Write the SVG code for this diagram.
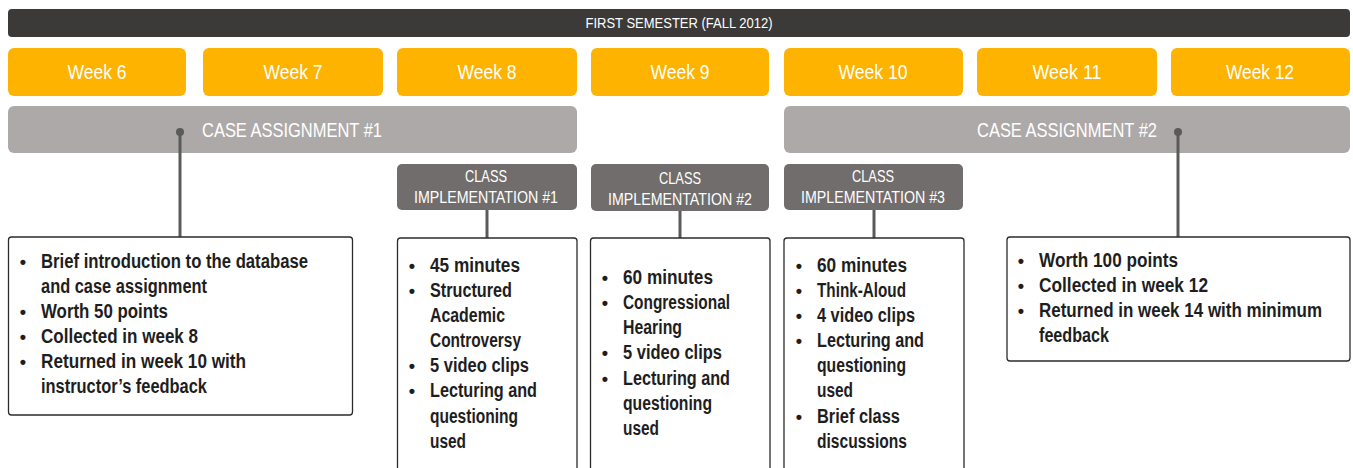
<svg xmlns="http://www.w3.org/2000/svg" width="1353" height="468" viewBox="0 0 1353 468">
<style>
.hdr{font-family:"Liberation Sans",Arial,sans-serif;fill:#ffffff;text-anchor:middle}
.wk{fill:#fdb300}
.case{fill:#ada9a8}
.impl{fill:#716d6c}
.box{fill:#ffffff;stroke:#2b2b2b;stroke-width:1.3}
.body{font-family:"Liberation Sans",Arial,sans-serif;font-weight:bold;font-size:20px;fill:#1e1e1e}
.bul{font-family:"Liberation Sans",Arial,sans-serif;font-weight:bold;font-size:18px;fill:#1e1e1e;text-anchor:middle}
.conn{stroke:#5a5a5a;stroke-width:3;fill:none}
.dot{fill:#5a5a5a}
</style>
<rect width="1353" height="468" fill="#ffffff"/>
<g id="semester">
<rect x="8" y="9" width="1342" height="28" rx="4" fill="#3b3a38"/>
<text class="hdr" x="679" y="28" font-size="15" textLength="187" lengthAdjust="spacingAndGlyphs">FIRST SEMESTER (FALL 2012)</text>
</g>
<g id="week6"><rect class="wk" x="8" y="48" width="178" height="48" rx="6"/><text class="hdr" x="97" y="79" font-size="20" textLength="59" lengthAdjust="spacingAndGlyphs">Week 6</text></g>
<g id="week7"><rect class="wk" x="203" y="48" width="180" height="48" rx="6"/><text class="hdr" x="293" y="79" font-size="20" textLength="59" lengthAdjust="spacingAndGlyphs">Week 7</text></g>
<g id="week8"><rect class="wk" x="397" y="48" width="180" height="48" rx="6"/><text class="hdr" x="487" y="79" font-size="20" textLength="59" lengthAdjust="spacingAndGlyphs">Week 8</text></g>
<g id="week9"><rect class="wk" x="591" y="48" width="178" height="48" rx="6"/><text class="hdr" x="680" y="79" font-size="20" textLength="59" lengthAdjust="spacingAndGlyphs">Week 9</text></g>
<g id="week10"><rect class="wk" x="784" y="48" width="179" height="48" rx="6"/><text class="hdr" x="873" y="79" font-size="20" textLength="69" lengthAdjust="spacingAndGlyphs">Week 10</text></g>
<g id="week11"><rect class="wk" x="977" y="48" width="180" height="48" rx="6"/><text class="hdr" x="1067" y="79" font-size="20" textLength="69" lengthAdjust="spacingAndGlyphs">Week 11</text></g>
<g id="week12"><rect class="wk" x="1171" y="48" width="179" height="48" rx="6"/><text class="hdr" x="1260" y="79" font-size="20" textLength="68" lengthAdjust="spacingAndGlyphs">Week 12</text></g>
<g id="case1"><rect class="case" x="8" y="106" width="569" height="47" rx="6"/><text class="hdr" x="292" y="137" font-size="21" textLength="180" lengthAdjust="spacingAndGlyphs">CASE ASSIGNMENT #1</text></g>
<g id="case2"><rect class="case" x="784" y="106" width="566" height="47" rx="6"/><text class="hdr" x="1067" y="137" font-size="21" textLength="180" lengthAdjust="spacingAndGlyphs">CASE ASSIGNMENT #2</text></g>
<g id="impl1"><rect class="impl" x="397" y="164" width="180" height="46" rx="5"/><text class="hdr" x="486" y="182" font-size="17" textLength="42" lengthAdjust="spacingAndGlyphs">CLASS</text><text class="hdr" x="486" y="203" font-size="17" textLength="144" lengthAdjust="spacingAndGlyphs">IMPLEMENTATION #1</text></g>
<g id="impl2"><rect class="impl" x="591" y="164" width="178" height="47" rx="5"/><text class="hdr" x="680" y="184" font-size="17" textLength="42" lengthAdjust="spacingAndGlyphs">CLASS</text><text class="hdr" x="680" y="205" font-size="17" textLength="144" lengthAdjust="spacingAndGlyphs">IMPLEMENTATION #2</text></g>
<g id="impl3"><rect class="impl" x="784" y="164" width="179" height="46" rx="5"/><text class="hdr" x="873" y="182" font-size="17" textLength="42" lengthAdjust="spacingAndGlyphs">CLASS</text><text class="hdr" x="873" y="203" font-size="17" textLength="144" lengthAdjust="spacingAndGlyphs">IMPLEMENTATION #3</text></g>
<g id="connectors">
<line class="conn" x1="180" y1="132" x2="180" y2="237"/><circle class="dot" cx="180" cy="132" r="4"/>
<line class="conn" x1="1178" y1="132" x2="1178" y2="237"/><circle class="dot" cx="1178" cy="132" r="4"/>
<line class="conn" x1="487" y1="210" x2="487" y2="246"/><circle class="dot" cx="487" cy="246" r="4"/>
<line class="conn" x1="680" y1="211" x2="680" y2="246"/><circle class="dot" cx="680" cy="246" r="4"/>
<line class="conn" x1="874" y1="210" x2="874" y2="246"/><circle class="dot" cx="874" cy="246" r="4"/>
</g>
<g id="detail1">
<rect class="box" x="8.5" y="237" width="344" height="178" rx="3"/>
<text class="bul" x="23" y="268">•</text><text class="body" x="41" y="268" textLength="267" lengthAdjust="spacingAndGlyphs">Brief introduction to the database</text>
<text class="body" x="41" y="293" textLength="166" lengthAdjust="spacingAndGlyphs">and case assignment</text>
<text class="bul" x="23" y="318">•</text><text class="body" x="41" y="318" textLength="127" lengthAdjust="spacingAndGlyphs">Worth 50 points</text>
<text class="bul" x="23" y="343">•</text><text class="body" x="41" y="343" textLength="157" lengthAdjust="spacingAndGlyphs">Collected in week 8</text>
<text class="bul" x="23" y="368">•</text><text class="body" x="41" y="368" textLength="205" lengthAdjust="spacingAndGlyphs">Returned in week 10 with</text>
<text class="body" x="41" y="393" textLength="166" lengthAdjust="spacingAndGlyphs">instructor’s feedback</text>
</g>
<g id="detail2">
<rect class="box" x="397.5" y="238" width="179.5" height="240" rx="3"/>
<text class="bul" x="412" y="272">•</text><text class="body" x="430" y="272" textLength="90" lengthAdjust="spacingAndGlyphs">45 minutes</text>
<text class="bul" x="412" y="297">•</text><text class="body" x="430" y="297" textLength="82" lengthAdjust="spacingAndGlyphs">Structured</text>
<text class="body" x="430" y="322" textLength="75" lengthAdjust="spacingAndGlyphs">Academic</text>
<text class="body" x="430" y="347" textLength="91" lengthAdjust="spacingAndGlyphs">Controversy</text>
<text class="bul" x="412" y="372">•</text><text class="body" x="430" y="372" textLength="99" lengthAdjust="spacingAndGlyphs">5 video clips</text>
<text class="bul" x="412" y="397">•</text><text class="body" x="430" y="397" textLength="107" lengthAdjust="spacingAndGlyphs">Lecturing and</text>
<text class="body" x="430" y="423" textLength="88" lengthAdjust="spacingAndGlyphs">questioning</text>
<text class="body" x="430" y="448" textLength="36" lengthAdjust="spacingAndGlyphs">used</text>
</g>
<g id="detail3">
<rect class="box" x="590.5" y="238" width="179.5" height="240" rx="3"/>
<text class="bul" x="605" y="284">•</text><text class="body" x="623" y="284" textLength="90" lengthAdjust="spacingAndGlyphs">60 minutes</text>
<text class="bul" x="605" y="309">•</text><text class="body" x="623" y="309" textLength="107" lengthAdjust="spacingAndGlyphs">Congressional</text>
<text class="body" x="623" y="334" textLength="59" lengthAdjust="spacingAndGlyphs">Hearing</text>
<text class="bul" x="605" y="359">•</text><text class="body" x="623" y="359" textLength="99" lengthAdjust="spacingAndGlyphs">5 video clips</text>
<text class="bul" x="605" y="385">•</text><text class="body" x="623" y="385" textLength="107" lengthAdjust="spacingAndGlyphs">Lecturing and</text>
<text class="body" x="623" y="410" textLength="89" lengthAdjust="spacingAndGlyphs">questioning</text>
<text class="body" x="623" y="435" textLength="36" lengthAdjust="spacingAndGlyphs">used</text>
</g>
<g id="detail4">
<rect class="box" x="784" y="238" width="180" height="240" rx="3"/>
<text class="bul" x="799" y="272">•</text><text class="body" x="817" y="272" textLength="90" lengthAdjust="spacingAndGlyphs">60 minutes</text>
<text class="bul" x="799" y="297">•</text><text class="body" x="817" y="297" textLength="89" lengthAdjust="spacingAndGlyphs">Think-Aloud</text>
<text class="bul" x="799" y="322">•</text><text class="body" x="817" y="322" textLength="98" lengthAdjust="spacingAndGlyphs">4 video clips</text>
<text class="bul" x="799" y="347">•</text><text class="body" x="817" y="347" textLength="107" lengthAdjust="spacingAndGlyphs">Lecturing and</text>
<text class="body" x="817" y="372" textLength="89" lengthAdjust="spacingAndGlyphs">questioning</text>
<text class="body" x="817" y="397" textLength="36" lengthAdjust="spacingAndGlyphs">used</text>
<text class="bul" x="799" y="423">•</text><text class="body" x="817" y="423" textLength="83" lengthAdjust="spacingAndGlyphs">Brief class</text>
<text class="body" x="817" y="448" textLength="90" lengthAdjust="spacingAndGlyphs">discussions</text>
</g>
<g id="detail5">
<rect class="box" x="1007" y="237" width="343" height="124" rx="3"/>
<text class="bul" x="1021" y="267">•</text><text class="body" x="1039" y="267" textLength="139" lengthAdjust="spacingAndGlyphs">Worth 100 points</text>
<text class="bul" x="1021" y="292">•</text><text class="body" x="1039" y="292" textLength="169" lengthAdjust="spacingAndGlyphs">Collected in week 12</text>
<text class="bul" x="1021" y="317">•</text><text class="body" x="1039" y="317" textLength="283" lengthAdjust="spacingAndGlyphs">Returned in week 14 with minimum</text>
<text class="body" x="1039" y="342" textLength="70" lengthAdjust="spacingAndGlyphs">feedback</text>
</g>
</svg>
